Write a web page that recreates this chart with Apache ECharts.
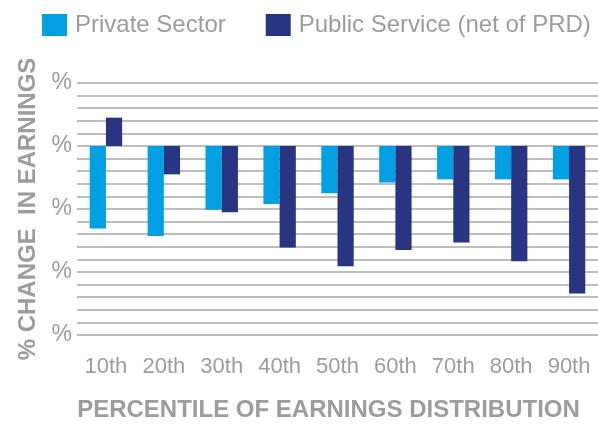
<!DOCTYPE html>
<html>
<head>
<meta charset="utf-8">
<script src="https://cdn.jsdelivr.net/npm/echarts@6/dist/echarts.min.js"></script>
<style>html,body{margin:0;padding:0;background:#fff}#c{width:598px;height:425px}</style>
</head>
<body>
<div id="c"></div>
<script>
var categories = ['10th','20th','30th','40th','50th','60th','70th','80th','90th'];
var privateSector = [-6.55, -7.15, -5.05, -4.6, -3.75, -2.9, -2.65, -2.65, -2.65];
var publicService = [2.25, -2.25, -5.25, -8.05, -9.55, -8.25, -7.65, -9.15, -11.7];
var seriesNames = ['Private Sector', 'Public Service (net of PRD)'];

var font = 'Liberation Sans, Arial, Helvetica, sans-serif';
var grey = '#9d9d9d';
var chart = echarts.init(document.getElementById('c'));
chart.setOption({
  animation: false,
  textStyle: {fontFamily: font},
  legend: {
    left: 37, top: 8,
    itemWidth: 25, itemHeight: 22, itemGap: 40,
    icon: 'rect',
    textStyle: {fontSize: 24, color: grey, fontFamily: font, padding: [0,0,0,3]},
    data: seriesNames
  },
  grid: {left: 77, right: 0, top: 83, bottom: 90, containLabel: false, outerBoundsMode: 'none'},
  xAxis: {
    type: 'category',
    data: categories,
    axisLine: {show: false},
    axisTick: {show: false},
    axisLabel: {fontSize: 22, color: grey, margin: 21, fontFamily: font, interval: 0},
    name: 'PERCENTILE OF EARNINGS DISTRIBUTION',
    nameLocation: 'middle',
    nameGap: 63,
    nameTextStyle: {fontSize: 24, fontWeight: 'bold', color: grey, fontFamily: font, padding: [0,18,0,0]}
  },
  yAxis: {
    type: 'value',
    min: -15, max: 5, interval: 5,
    axisLine: {show: false},
    axisTick: {show: false},
    axisLabel: {fontSize: 23, color: grey, margin: 5, fontFamily: font, padding: [4,0,0,0], formatter: function(){ return '%'; }},
    splitLine: {show: true, lineStyle: {color: '#a8a8a8', width: 1.5}},
    minorTick: {show: false, splitNumber: 5},
    minorSplitLine: {show: true, lineStyle: {color: '#a8a8a8', width: 1.5}},
    name: '% CHANGE  IN EARNINGS',
    nameLocation: 'middle',
    nameGap: 37,
    nameTextStyle: {fontSize: 24, fontWeight: 'bold', color: grey, fontFamily: font}
  },
  series: [
    {name: seriesNames[0], type: 'bar', data: privateSector, barGap: '0%', barCategoryGap: '44%',
     itemStyle: {color: '#00a0e3'}},
    {name: seriesNames[1], type: 'bar', data: publicService, barGap: '0%', barCategoryGap: '44%',
     itemStyle: {color: '#273582'}}
  ]
});
</script>
</body>
</html>
